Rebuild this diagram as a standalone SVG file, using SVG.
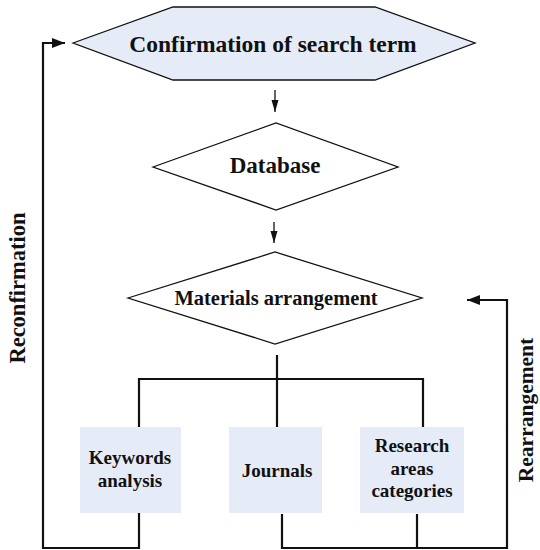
<svg xmlns="http://www.w3.org/2000/svg" width="540" height="550" viewBox="0 0 540 550">
<style>
text{font-family:"Liberation Serif","Times New Roman",serif;font-weight:bold;fill:#111;text-anchor:middle}
.shape{stroke:#111;stroke-width:1.3}
.blue{fill:#e6ecf7}
.white{fill:#fff}
.box{fill:#e6ecf7;stroke:none}
.conn{fill:none;stroke:#111;stroke-width:2.2}
.thin{fill:none;stroke:#111;stroke-width:1.3}
</style>
<defs>
<marker id="big" markerWidth="14" markerHeight="12" refX="13" refY="6" orient="auto" markerUnits="userSpaceOnUse">
<path d="M0,1 L13,6 L0,11 Z" fill="#111"/>
</marker>
<marker id="small" markerWidth="12" markerHeight="10" refX="12" refY="4" orient="auto" markerUnits="userSpaceOnUse">
<path d="M0,0.5 L12,4 L0,7.5 Z" fill="#111"/>
</marker>
</defs>
<g id="connectors">
<line class="thin" x1="275" y1="90" x2="275" y2="112" marker-end="url(#small)"/>
<line class="thin" x1="274" y1="222" x2="274" y2="243" marker-end="url(#small)"/>
<path class="conn" d="M277,355 V427"/>
<path class="conn" d="M139,427 V379 H423 V427"/>
<path class="conn" d="M139,513 V548 H43 V43 H65" marker-end="url(#big)"/>
<path class="conn" d="M282,514 V548 H507 V300 H467" marker-end="url(#big)"/>
<path class="conn" d="M417,514 V548"/>
</g>
<g id="confirmation">
<polygon class="shape blue" points="73,43 173,7 375,7 475,43 375,80 173,80"/>
<text x="273" y="52" font-size="23.5">Confirmation of search term</text>
</g>
<g id="database">
<polygon class="shape white" points="153,167 276,123 398,167 276,210"/>
<text x="275" y="173" font-size="23">Database</text>
</g>
<g id="materials">
<polygon class="shape white" points="128,298 275,252 422,298 275,344"/>
<text x="276" y="305" font-size="20.5">Materials arrangement</text>
</g>
<g id="keywords">
<rect class="box" x="80" y="427" width="101" height="86"/>
<text x="130" y="464" font-size="19">Keywords</text>
<text x="130" y="487" font-size="19">analysis</text>
</g>
<g id="journals">
<rect class="box" x="229" y="427" width="93" height="86"/>
<text x="277" y="477" font-size="19">Journals</text>
</g>
<g id="research">
<rect class="box" x="360" y="427" width="104" height="86"/>
<text x="412" y="452" font-size="19">Research</text>
<text x="412" y="475" font-size="19">areas</text>
<text x="412" y="497" font-size="19">categories</text>
</g>
<g id="labels">
<text transform="translate(25,288) rotate(-90)" font-size="22.5">Reconfirmation</text>
<text transform="translate(533,410) rotate(-90)" font-size="21.5">Rearrangement</text>
</g>
</svg>
